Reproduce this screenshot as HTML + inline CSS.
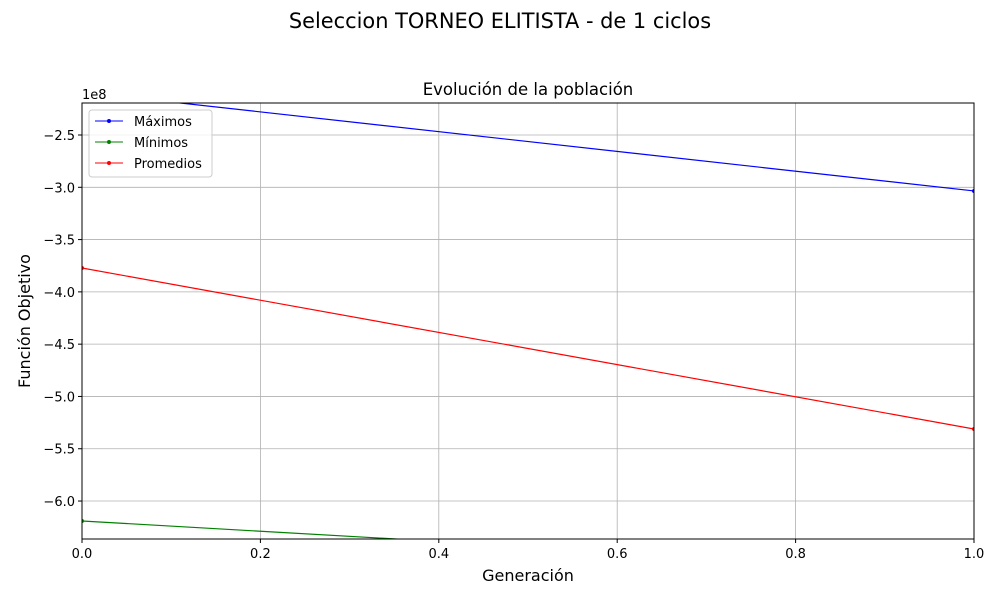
<!DOCTYPE html>
<html><head><meta charset="utf-8"><style>
body{margin:0;background:#fff;font-family:"Liberation Sans","DejaVu Sans",sans-serif}
svg text{font-family:"DejaVu Sans","Liberation Sans",sans-serif}
</style></head><body>
<svg id="chart" width="1000" height="600" xmlns="http://www.w3.org/2000/svg">
<defs><clipPath id="clip"><rect x="82" y="103" width="892" height="436"/></clipPath></defs>
<text x="500" y="28" text-anchor="middle" font-size="20.9">Seleccion TORNEO ELITISTA - de 1 ciclos</text>
<text x="528" y="95" text-anchor="middle" font-size="16.5">Evolución de la población</text>
<g id="grid"></g>
<g id="series" clip-path="url(#clip)"></g>
<rect x="82" y="103" width="892" height="436" fill="none" stroke="#000" stroke-width="1"/>
<g id="ticks"></g>
<text x="82" y="99" font-size="13">1e8</text>
<text x="528" y="581" text-anchor="middle" font-size="16">Generación</text>
<text transform="translate(30,321) rotate(-90)" text-anchor="middle" font-size="16">Función Objetivo</text>
<g>
<rect x="89" y="110" width="123" height="67" rx="3" fill="#fff" fill-opacity="0.8" stroke="#ccc"/>
<g><line x1="95" y1="121" x2="123" y2="121" stroke="blue"/><circle cx="109" cy="121" r="2" fill="blue"/><text x="134" y="126" font-size="13">Máximos</text></g>
<g><line x1="95" y1="142" x2="123" y2="142" stroke="green"/><circle cx="109" cy="142" r="2" fill="green"/><text x="134" y="147" font-size="13">Mínimos</text></g>
<g><line x1="95" y1="163" x2="123" y2="163" stroke="red"/><circle cx="109" cy="163" r="2" fill="red"/><text x="134" y="168" font-size="13">Promedios</text></g>
</g>
</svg>
<script>
const generations=[0,1];
const maximos=[-2.09,-3.035];
const minimos=[-6.191,-6.68];
const promedios=[-3.772,-5.311];
const xTicks=[0,0.2,0.4,0.6,0.8,1.0];
const xTickLabels=["0.0","0.2","0.4","0.6","0.8","1.0"];
const yTicks=[-2.5,-3.0,-3.5,-4.0,-4.5,-5.0,-5.5,-6.0];
const yTickLabels=["−2.5","−3.0","−3.5","−4.0","−4.5","−5.0","−5.5","−6.0"];
const NS="http://www.w3.org/2000/svg";
const X=v=>82+v*892;
const Y=v=>135+(-2.5-v)/0.5*52.29;
function mk(tag,attrs,parent){const e=document.createElementNS(NS,tag);for(const k in attrs)e.setAttribute(k,attrs[k]);document.getElementById(parent).appendChild(e);return e;}
xTicks.forEach((t,i)=>{
 const g=mk('line',{x1:X(t),x2:X(t),y1:103,y2:539,stroke:'#b0b0b0','stroke-width':0.8},'grid');
 
 
 mk('line',{x1:X(t),x2:X(t),y1:539,y2:543,stroke:'#000'},'ticks');
 const tx=mk('text',{x:X(t),y:558,'text-anchor':'middle','font-size':13},'ticks');
 tx.textContent=xTickLabels[i];
 
 
});
yTicks.forEach((t,i)=>{
 const g=mk('line',{x1:82,x2:974,y1:Y(t),y2:Y(t),stroke:'#b0b0b0','stroke-width':0.8},'grid');
 
 
 mk('line',{x1:78,x2:82,y1:Y(t),y2:Y(t),stroke:'#000'},'ticks');
 const tx=mk('text',{x:75,y:Y(t)+5,'text-anchor':'end','font-size':13},'ticks');
 tx.textContent=yTickLabels[i];
 
 
});
[[maximos,'blue','maximos'],[minimos,'green','minimos'],[promedios,'red','promedios']].forEach(([d,c,n])=>{
 const p=mk('polyline',{points:generations.map((g,i)=>X(g)+','+Y(d[i])).join(' '),fill:'none',stroke:c,'stroke-width':1.2},'series');
 
 
 generations.forEach((g,i)=>{
  const m=mk('circle',{cx:X(g),cy:Y(d[i]),r:2,fill:c},'series');
  
  
 });
});
</script>
</body></html>
